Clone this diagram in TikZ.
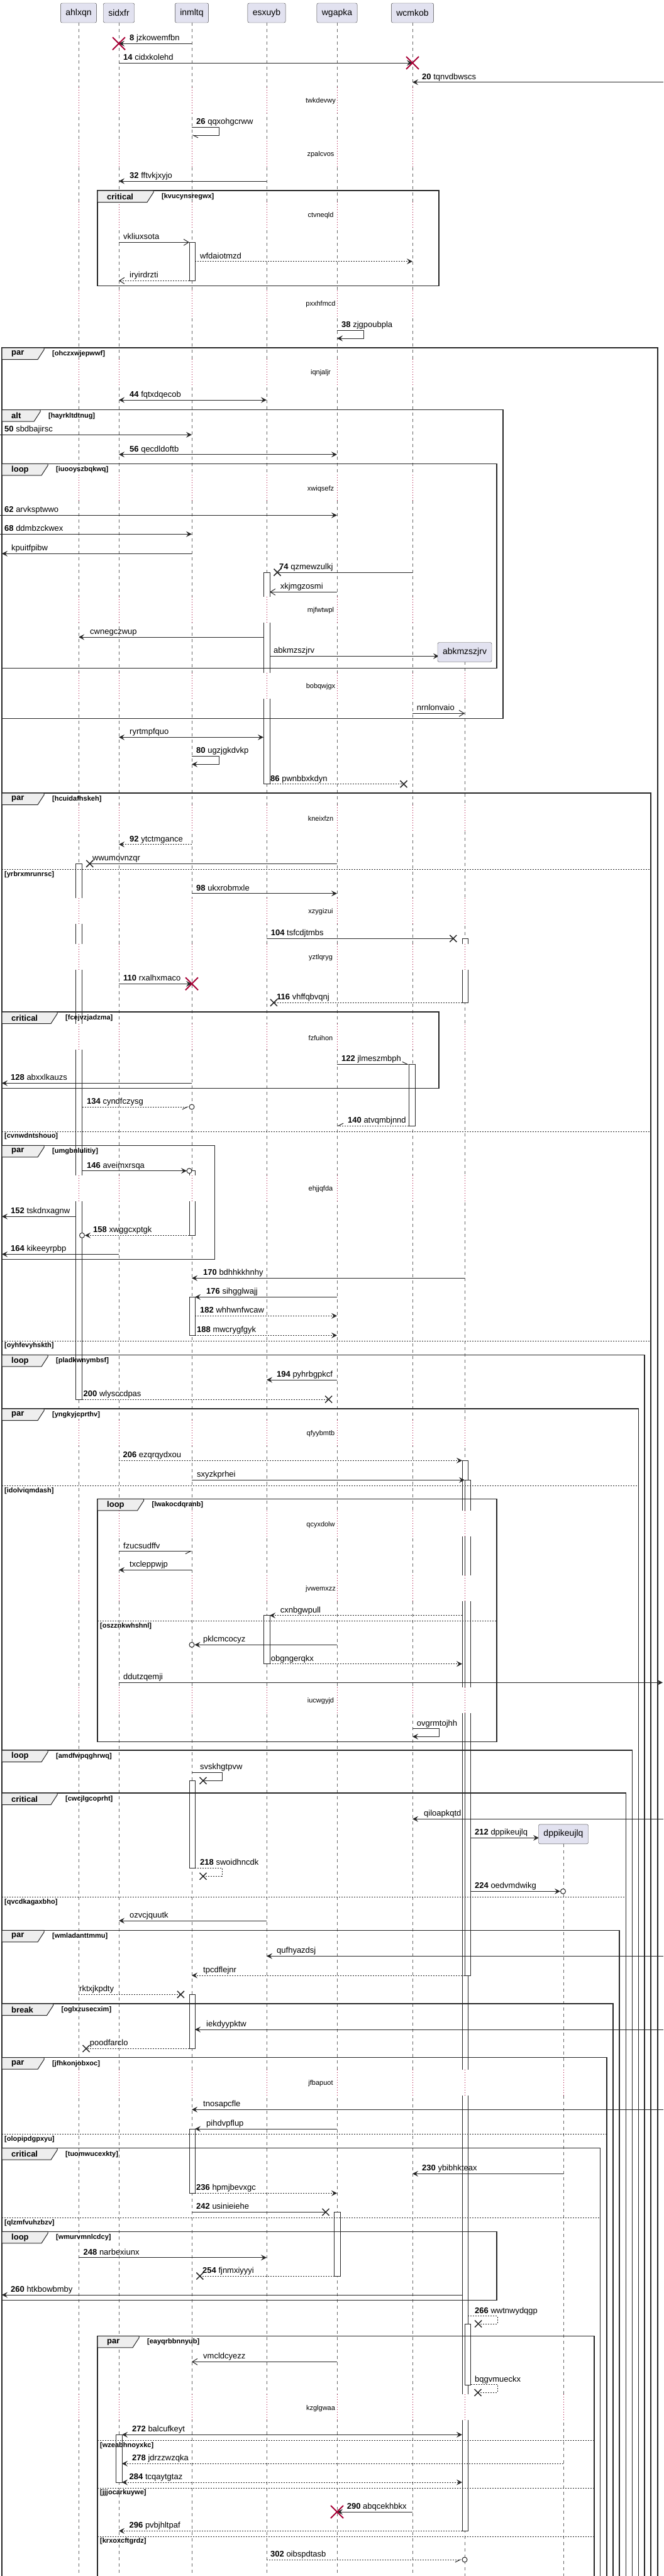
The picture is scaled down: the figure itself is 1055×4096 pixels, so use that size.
\documentclass[tikz,border=0pt]{standalone}
\usepackage{fontspec}
\setmainfont{Liberation Sans}
\usetikzlibrary{arrows.meta}
\definecolor{pfill}{HTML}{E2E2F0}
\definecolor{dred}{HTML}{A80036}
\definecolor{tabf}{HTML}{EEEEEE}
\newcommand\fm{\fontsize{13}{15}\selectfont}
\newcommand\fsm{\fontsize{11}{13}\selectfont}
\newcommand\fpt{\fontsize{14}{16}\selectfont}
\tikzset{
  ll/.style={black!60, dash pattern=on 5pt off 5pt, line width=0.8pt},
  dl/.style={dred, dash pattern=on 1pt off 3pt, line width=1pt},
  msg/.style={line width=1pt, black!85},
  dt/.style={dash pattern=on 2pt off 2pt},
  fa/.style={-{Stealth[length=9pt,width=9pt,inset=3.5pt]}},
  ba/.style={{Stealth[length=9pt,width=9pt,inset=3.5pt]}-{Stealth[length=9pt,width=9pt,inset=3.5pt]}},
  oa/.style={-{Straight Barb[length=8pt,width=10pt]}},
  hal/.style={-{Straight Barb[length=8pt,width=8pt,left]}},
  har/.style={-{Straight Barb[length=8pt,width=8pt,right]}},
  actbar/.style={draw=black!85, fill=white, line width=1pt},
  frm/.style={line width=1.5pt, black!85},
  tabst/.style={draw=black!85, fill=tabf, line width=1pt},
  kw/.style={font=\fm\bfseries, inner sep=0pt, anchor=west},
  gd/.style={font=\fsm\bfseries, inner sep=0pt, anchor=west},
  els/.style={dash pattern=on 2pt off 2pt, line width=1pt, black!85},
  lbl/.style={font=\fm, inner sep=0pt, anchor=base west},
  dtext/.style={font=\fsm, inner sep=0pt},
  part/.style={draw=black!75, fill=pfill, rounded corners=2.5pt, minimum height=31pt, inner xsep=8pt, font=\fpt},
  redx/.style={dred, line width=2pt},
  blkx/.style={black!85, line width=1.5pt}
}
\newcommand\lbn[4]{\node[lbl] at (#1,{#2-4.5}) {\textbf{#3} #4};}
\newcommand\lbt[3]{\node[lbl] at (#1,{#2-4.5}) {#3};}
\newcommand\rx[2]{\draw[redx] ({#1-10},{#2-10}) -- ({#1+10},{#2+10}) ({#1-10},{#2+10}) -- ({#1+10},{#2-10});}
\newcommand\bx[2]{\draw[blkx] ({#1-5.5},{#2-5.5}) -- ({#1+5.5},{#2+5.5}) ({#1-5.5},{#2+5.5}) -- ({#1+5.5},{#2-5.5});}
\newcommand\ocirc[2]{\draw[line width=1pt, black!85, fill=white] (#1,#2) circle (4pt);}
\newcommand\actb[4]{\draw[actbar] (#1,#3) rectangle (#2,#4);}
\newcommand\grpc[4]{\draw[frm] (#1,#2) rectangle (#3,#4);}
\newcommand\grpo[3]{\draw[frm] (#1,4110) -- (#1,#2) -- (#3,#2) -- (#3,4110);}
\newcommand\gtab[5]{\draw[tabst] (#1,#2) -- ({#1+#3},#2) -- ({#1+#3},{#2+3}) -- ({#1+#3-10},{#2+18.5}) -- (#1,{#2+18.5}) -- cycle;
  \node[kw] at ({#1+15},{#2+9.5}) {#4};
  \node[gd] at ({#1+#3+13},{#2+9.5}) {[#5]};}
\newcommand\gelse[4]{\draw[els] (#1,#3) -- (#2,#3); \node[gd] at ({#1+4},{#3+8}) {[#4]};}
\begin{document}
\begin{tikzpicture}[x=1pt,y=-1pt]
\fill[white] (0,0) rectangle (1055,4096);
\useasboundingbox (0,0) rectangle (1055,4096);
% lifelines
\foreach \x in {125,189,305,424,536,656} \draw[ll] (\x,36) -- (\x,4096);
\draw[ll] (739,1052) -- (739,4096);
\draw[ll] (896,2932) -- (896,4096);
% activation bars
\actb{301}{310}{385.3}{446.7}
\actb{419}{429}{910}{1246.7}
\actb{120}{130.5}{1373.3}{2225}
\actb{735}{744}{1492.3}{1594.3}
\actb{650}{660}{1692.3}{1790}
\actb{301}{310}{1861.7}{1964.3}
\actb{301}{310}{2062.3}{2123.3}
\actb{735}{744}{2322.3}{4024.3}
\actb{739}{748.5}{2353.3}{3141}
\actb{419}{429}{2568.7}{2645.7}
\actb{301}{310}{2831.3}{2970.7}
\actb{301}{310}{3171.3}{3257.3}
\actb{301}{310}{3385}{3487.3}
\actb{531.5}{541}{3517.3}{3619}
\actb{739}{748.5}{3695}{3792}
\actb{184}{194}{3871.3}{3947}
% delays
\foreach \dy in {160.7,245.7,343,484,593,777.3,970.7}{
  \foreach \lx in {125,189,305,424,536,656}{
    \fill[white] ({\lx-11},{\dy-22}) rectangle ({\lx+11},{\dy+19});
    \draw[dl] (\lx,{\dy-22}) -- (\lx,{\dy+19});
  }}
\foreach \dy in {1092,1301.7,1450,1522.7,1650.3,1891,2280,2424.3,2526.7,2705}{
  \foreach \lx in {125,189,305,424,536,656,739}{
    \fill[white] ({\lx-11},{\dy-22}) rectangle ({\lx+11},{\dy+19});
    \draw[dl] (\lx,{\dy-22}) -- (\lx,{\dy+19});
  }}
\foreach \dy in {3312.7,3829.3}{
  \foreach \lx in {125,189,305,424,536,656,739,896}{
    \fill[white] ({\lx-11},{\dy-22}) rectangle ({\lx+11},{\dy+19});
    \draw[dl] (\lx,{\dy-22}) -- (\lx,{\dy+19});
  }}
\node[dtext] (d1) at (510,160.7) {twkdevwy};
\node[dtext] (d2) at (510,245.7) {zpalcvos};
\node[dtext] (d3) at (510,343) {ctvneqld};
\node[dtext] (d4) at (510,484) {pxxhfmcd};
\node[dtext] (d5) at (510,593) {iqnjaljr};
\node[dtext] (d6) at (510,777.3) {xwiqsefz};
\node[dtext] (d7) at (510,970.7) {mjfwtwpl};
\node[dtext] (d8) at (510,1092) {bobqwjgx};
\node[dtext] (d9) at (510,1301.7) {kneixfzn};
\node[dtext] (d10) at (510,1450) {xzygizui};
\node[dtext] (d11) at (510,1522.7) {yztlqryg};
\node[dtext] (d12) at (510,1650.3) {fzfuihon};
\node[dtext] (d13) at (510,1891) {ehjjqfda};
\node[dtext] (d14) at (510,2280) {qfyybmtb};
\node[dtext] (d15) at (510,2424.3) {qcyxdolw};
\node[dtext] (d16) at (510,2526.7) {jvwemxzz};
\node[dtext] (d17) at (510,2705) {iucwgyjd};
\node[dtext] (d18) at (510,3312.7) {jfbapuot};
\node[dtext] (d19) at (510,3829.3) {kzglgwaa};
% groups
\grpc{155}{303}{698}{454.3}
\gtab{155}{303}{89}{critical}{kvucynsregwx}
\grpo{3}{553}{1046}
\gtab{3}{553}{67}{par}{ohczxwjepwwf}
\grpc{3}{651.7}{800}{1142.3}
\gtab{3}{651.7}{61}{alt}{hayrkltdtnug}
\grpc{3}{737.3}{790}{1062.7}
\gtab{3}{737.3}{73}{loop}{iuooyszbqkwq}
\grpo{3}{1261}{1035}
\gtab{3}{1261}{67}{par}{hcuidafhskeh}
\gelse{3}{1035}{1382.7}{yrbrxmrunrsc}
\gelse{3}{1035}{1799}{cvnwdntshouo}
\gelse{3}{1035}{2132}{oyhfevyhskth}
\grpc{3}{1609}{698}{1730.7}
\gtab{3}{1609}{88}{critical}{fcejvzjadzma}
\grpc{3}{1821.3}{341.4}{2002.3}
\gtab{3}{1821.3}{67}{par}{umgbnlulitiy}
\grpo{3}{2154.3}{1025}
\gtab{3}{2154.3}{73}{loop}{pladkwnymbsf}
\grpo{3}{2240}{1015.5}
\gtab{3}{2240}{67}{par}{yngkyjcprthv}
\gelse{3}{1015.5}{2362.3}{idolviqmdash}
\grpc{155}{2383.3}{790}{2769.3}
\gtab{155}{2383.3}{73.5}{loop}{lwakocdqranb}
\gelse{155}{790}{2577.3}{oszznkwhshnl}
\grpo{3}{2783}{1005.4}
\gtab{3}{2783}{73}{loop}{amdfwpqghrwq}
\grpo{3}{2851}{995.3}
\gtab{3}{2851}{88}{critical}{cwcjlgcoprht}
\gelse{3}{995.3}{3016.7}{qvcdkagaxbho}
\grpo{3}{3069.3}{985}
\gtab{3}{3069.3}{67}{par}{wmladanttmmu}
\grpo{3}{3186}{975}
\gtab{3}{3186}{81.5}{break}{oglxzusecxim}
\grpo{3}{3271.7}{964.8}
\gtab{3}{3271.7}{67}{par}{jfhkonjobxoc}
\gelse{3}{964.8}{3393.7}{olopipdgpxyu}
\grpo{3}{3415.7}{954.7}
\gtab{3}{3415.7}{88}{critical}{tuomwucexkty}
\gelse{3}{954.7}{3526.3}{qlzmfvuhzbzv}
\grpc{3}{3548.3}{790}{3657.3}
\gtab{3}{3548.3}{73}{loop}{wmurvmnlcdcy}
\grpo{155}{3714.3}{945.2}
\gtab{155}{3714.3}{66}{par}{eayqrbbnnyub}
\gelse{155}{945.2}{3880.3}{wzeabhnoyxkc}
\gelse{155}{945.2}{3956}{jjjocarkuywe}
\gelse{155}{945.2}{4033}{krxoxcftgrdz}
% messages
\draw[msg,fa] (305,69.3) -- (189,69.3); \lbn{206}{69.3}{8}{jzkowemfbn} \rx{189}{69.3}
\draw[msg,fa] (189,100) -- (656,100); \lbn{196}{100}{14}{cidxkolehd} \rx{656}{100}
\draw[msg,fa] (1055,130.7) -- (656,130.7); \lbn{671}{130.7}{20}{tqnvdbwscs}
\draw[msg,hal] (305,202) -- (348,202) -- (348,215) -- (305,215); \lbn{312}{202}{26}{qqxohgcrww}
\draw[msg,fa] (424,288) -- (189,288); \lbn{206}{288}{32}{fftvkjxyjo}
\draw[msg,oa] (189,385.3) -- (301,385.3); \lbt{196}{385.3}{vkliuxsota}
\draw[msg,dt,fa] (310,415.7) -- (656,415.7); \lbt{318}{415.7}{wfdaiotmzd}
\draw[msg,dt,oa] (301,446.3) -- (189,446.3); \lbt{206}{446.3}{iryirdrzti}
\draw[msg,fa] (536,525) -- (578,525) -- (578,538) -- (536,538); \lbn{543}{525}{38}{zjgpoubpla}
\draw[msg,ba] (189,636) -- (424,636); \lbn{206}{636}{44}{fqtxdqecob}
\draw[msg,fa] (0,691.3) -- (305,691.3); \lbn{7}{691.3}{50}{sbdbajirsc}
\draw[msg,ba] (189,722.7) -- (536,722.7); \lbn{206}{722.7}{56}{qecdldoftb}
\draw[msg,fa] (0,819.3) -- (536,819.3); \lbn{7}{819.3}{62}{arvksptwwo}
\draw[msg,fa] (0,849.3) -- (305,849.3); \lbn{7}{849.3}{68}{ddmbzckwex}
\draw[msg,fa] (305,880.3) -- (3,880.3); \lbt{18}{880.3}{kpuitfpibw}
\draw[msg] (656,910) -- (441,910); \bx{441}{910} \lbn{444}{910}{74}{qzmewzulkj}
\draw[msg,oa] (536,941.3) -- (429,941.3); \lbt{445.6}{941.3}{xkjmgzosmi}
\draw[msg,fa] (419,1013) -- (125,1013); \lbt{143}{1013}{cwnegczwup}
\draw[msg,fa] (429,1043.3) -- (698,1043.3); \lbt{435}{1043.3}{abkmzszjrv}
\draw[msg,oa] (656,1134.3) -- (739,1134.3); \lbt{662.6}{1134.3}{nrnlonvaio}
\draw[msg,ba] (189,1172.3) -- (419,1172.3); \lbt{206}{1172.3}{ryrtmpfquo}
\draw[msg,fa] (305,1202.3) -- (348,1202.3) -- (348,1215.3) -- (305,1215.3); \lbn{312}{1202.3}{80}{ugzjgkdvkp}
\draw[msg,dt] (429,1246.7) -- (642,1246.7); \bx{642}{1246.7} \lbn{430}{1246.7}{86}{pwnbbxkdyn}
\draw[msg,dt,fa] (305,1342.7) -- (189,1342.7); \lbn{206}{1342.7}{92}{ytctmgance}
\draw[msg] (536,1373.3) -- (142.7,1373.3); \bx{142.7}{1373.3} \lbt{147}{1373.3}{wwumovnzqr}
\draw[msg,fa] (305,1420.7) -- (536,1420.7); \lbn{312}{1420.7}{98}{ukxrobmxle}
\draw[msg] (424,1492.3) -- (720.8,1492.3); \bx{720.8}{1492.3} \lbn{430.7}{1492.3}{104}{tsfcdjtmbs}
\draw[msg,fa] (189,1564.3) -- (305,1564.3); \rx{305}{1564.3} \lbn{196}{1564.3}{110}{rxalhxmaco}
\draw[msg,dt] (735,1594.3) -- (435.4,1594.3); \bx{435.4}{1594.3} \lbn{440}{1594.3}{116}{vhffqbvqnj}
\draw[msg,hal] (536,1692.3) -- (650,1692.3); \lbn{543}{1692.3}{122}{jlmeszmbph}
\draw[msg,fa] (305,1722.3) -- (3,1722.3); \lbn{17}{1722.3}{128}{abxxlkauzs}
\draw[msg,dt,har] (130.5,1760) -- (300,1760); \ocirc{305}{1760} \lbn{138}{1760}{134}{cyndfczysg}
\draw[msg,dt,har] (650,1790) -- (536,1790); \lbn{553}{1790}{140}{atvqmbjnnd}
\draw[msg,fa] (130.5,1861.7) -- (297,1861.7); \ocirc{301}{1861.7} \lbn{138}{1861.7}{146}{aveimxrsqa}
\draw[msg,fa] (120,1934.3) -- (3,1934.3); \lbn{17}{1934.3}{152}{tskdnxagnw}
\draw[msg,dt,fa] (301,1964.3) -- (135,1964.3); \ocirc{130.5}{1964.3} \lbn{148}{1964.3}{158}{xwggcxptgk}
\draw[msg,fa] (189,1994.3) -- (3,1994.3); \lbn{17}{1994.3}{164}{kikeeyrpbp}
\draw[msg,fa] (739,2032.3) -- (305,2032.3); \lbn{323}{2032.3}{170}{bdhhkkhnhy}
\draw[msg,fa] (536,2062.3) -- (310,2062.3); \lbn{328}{2062.3}{176}{sihgglwajj}
\draw[msg,dt,fa] (310,2092.3) -- (536,2092.3); \lbn{318}{2092.3}{182}{whhwnfwcaw}
\draw[msg,dt,fa] (310,2123.3) -- (536,2123.3); \lbn{313}{2123.3}{188}{mwcrygfgyk}
\draw[msg,fa] (536,2194) -- (424,2194); \lbn{440}{2194}{194}{pyhrbgpkcf}
\draw[msg,dt] (130.5,2225) -- (522.6,2225); \bx{522.6}{2225} \lbn{132.5}{2225}{200}{wlysccdpas}
\draw[msg,dt,fa] (189,2322.3) -- (735,2322.3); \lbn{195.4}{2322.3}{206}{ezqrqydxou}
\draw[msg,fa] (305,2353.3) -- (739,2353.3); \lbt{313}{2353.3}{sxyzkprhei}
\draw[msg,har] (189,2466.7) -- (305,2466.7); \lbt{196}{2466.7}{fzucsudffv}
\draw[msg,fa] (305,2496.3) -- (189,2496.3); \lbt{206}{2496.3}{txcleppwjp}
\draw[msg,dt,fa] (735,2568.7) -- (429,2568.7); \lbt{445.6}{2568.7}{cxnbgwpull}
\draw[msg,fa] (536,2615.3) -- (309.5,2615.3); \ocirc{305}{2615.3} \lbt{323}{2615.3}{pklcmcocyz}
\draw[msg,dt,fa] (429,2645.7) -- (735,2645.7); \lbt{430.7}{2645.7}{obgngerqkx}
\draw[msg,fa] (189,2675.3) -- (1054,2675.3); \lbt{196}{2675.3}{ddutzqemji}
\draw[msg,fa] (656,2748.7) -- (698,2748.7) -- (698,2761.3) -- (656,2761.3); \lbt{662.6}{2748.7}{ovgrmtojhh}
\draw[msg] (305,2818.3) -- (353,2818.3) -- (353,2831.3) -- (323,2831.3); \bx{323}{2831.3} \lbt{318}{2818.3}{svskhgtpvw}
\draw[msg,fa] (1055,2892.3) -- (656,2892.3); \lbt{674}{2892.3}{qiloapkqtd}
\draw[msg,fa] (748.5,2922.3) -- (857,2922.3); \lbn{755}{2922.3}{212}{dppikeujlq}
\draw[msg,dt] (310,2970) -- (353,2970) -- (353,2983.3) -- (323,2983.3); \bx{323}{2983.3} \lbn{318}{2970}{218}{swoidhncdk}
\draw[msg,fa] (748.5,3007.3) -- (891,3007.3); \ocirc{895.5}{3007.3} \lbn{755}{3007.3}{224}{oedvmdwikg}
\draw[msg,fa] (424,3054) -- (189,3054); \lbt{206}{3054}{ozvcjquutk}
\draw[msg,fa] (1055,3110.3) -- (424,3110.3); \lbt{440}{3110.3}{qufhyazdsj}
\draw[msg,dt,fa] (739,3141) -- (305,3141); \lbt{323}{3141}{tpcdflejnr}
\draw[msg,dt] (125,3171.3) -- (287.4,3171.3); \bx{287.4}{3171.3} \lbt{126}{3171.3}{rktxjkpdty}
\draw[msg,fa] (1055,3227) -- (310,3227); \lbt{328}{3227}{iekdyypktw}
\draw[msg,dt] (301,3257.3) -- (137,3257.3); \bx{137}{3257.3} \lbt{142.7}{3257.3}{poodfarclo}
\draw[msg,fa] (1055,3354.3) -- (305,3354.3); \lbt{323}{3354.3}{tnosapcfle}
\draw[msg,fa] (536,3385) -- (310,3385); \lbt{328}{3385}{pihdvpflup}
\draw[msg,fa] (896,3456.3) -- (656,3456.3); \lbn{671}{3456.3}{230}{ybibhkteax}
\draw[msg,dt,fa] (310,3487.3) -- (536,3487.3); \lbn{312}{3487.3}{236}{hpmjbevxgc}
\draw[msg] (305,3517.3) -- (518,3517.3); \bx{518}{3517.3} \lbn{312}{3517.3}{242}{usinieiehe}
\draw[msg,fa] (125,3589.7) -- (424,3589.7); \lbn{132.5}{3589.7}{248}{narbexiunx}
\draw[msg,dt] (531.5,3619) -- (317.8,3619); \bx{317.8}{3619} \lbn{322}{3619}{254}{fjnmxiyyyi}
\draw[msg,fa] (735,3649) -- (3,3649); \lbn{17}{3649}{260}{htkbowbmby}
\draw[msg,dt] (744,3682.7) -- (791,3682.7) -- (791,3695) -- (760.6,3695); \bx{760.6}{3695} \lbn{755}{3682.7}{266}{wwtnwydqgp}
\draw[msg,oa] (536,3755.3) -- (305,3755.3); \lbt{323}{3755.3}{vmcldcyezz}
\draw[msg,dt] (748.5,3791.7) -- (791,3791.7) -- (791,3804.3) -- (760,3804.3); \bx{760}{3804.3} \lbt{755}{3791.7}{bqgvmueckx}
\draw[msg,ba] (194,3871.3) -- (735,3871.3); \lbn{210}{3871.3}{272}{balcufkeyt}
\draw[msg,dt,fa] (896,3917.3) -- (194,3917.3); \lbn{210}{3917.3}{278}{jdrzzwzqka}
\draw[msg,dt,ba] (194,3947) -- (735,3947); \lbn{205.5}{3947}{284}{tcqaytgtaz}
\draw[msg,fa] (656,3994) -- (536,3994); \rx{536}{3994} \lbn{551.7}{3994}{290}{abqcekhbkx}
\draw[msg,dt,fa] (735,4024.3) -- (189,4024.3); \lbn{205.5}{4024.3}{296}{pvbjhltpaf}
\draw[msg,dt,har] (424,4070) -- (734,4070); \ocirc{739}{4070} \lbn{430}{4070}{302}{oibspdtasb}
% participants
\node[part] (pA) at (125,20.5) {ahlxqn};
\node[part] (pS) at (189,20.5) {sidxfr};
\node[part] (pI) at (305,20.5) {inmltq};
\node[part] (pE) at (424,20.5) {esxuyb};
\node[part] (pW) at (536,20.5) {wgapka};
\node[part] (pC) at (656,20.5) {wcmkob};
\node[part] (pK) at (739,1037) {abkmzszjrv};
\node[part] (pD) at (896,2916.3) {dppikeujlq};
\end{tikzpicture}
\end{document}
